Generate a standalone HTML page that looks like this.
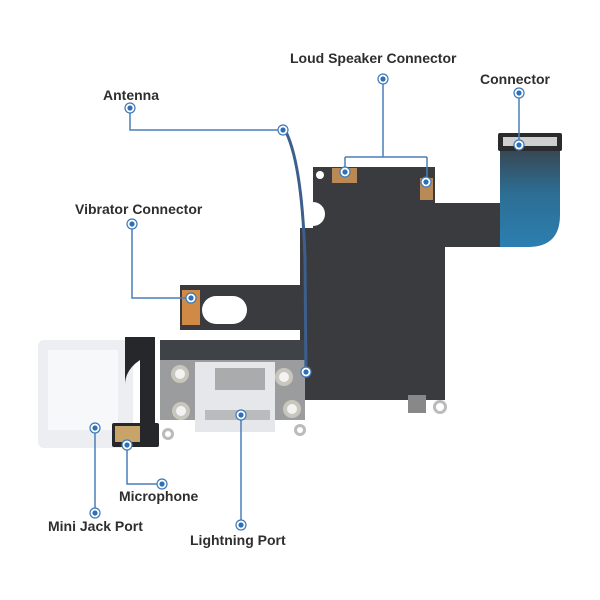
<!DOCTYPE html>
<html><head><meta charset="utf-8"><style>
html,body{margin:0;padding:0;background:#fff;}
svg{display:block;}
text{font-family:"Liberation Sans",sans-serif;font-weight:bold;font-size:14px;fill:#2e2e2e;}
</style></head><body>
<svg width="600" height="600" viewBox="0 0 600 600" xmlns="http://www.w3.org/2000/svg">
<defs>
<linearGradient id="bl" x1="0" y1="0" x2="0" y2="1"><stop offset="0" stop-color="#3a3e44"/><stop offset="0.5" stop-color="#2d6e94"/><stop offset="1" stop-color="#2b7fb0"/></linearGradient>
<g id="dot"><circle r="5" fill="#fff" stroke="#3d78b8" stroke-width="1.2"/><circle r="2.6" fill="#2f6fb5"/></g>
</defs>
<!-- main dark flex board -->
<path d="M313,167 H435 V203 H500 V247 H445 V400 H300 V330 H180 V285 H300 V228 H313 Z" fill="#3a3b3e"/>
<circle cx="313" cy="214" r="12" fill="#fff"/>
<!-- connector end -->
<path d="M500,140 H560 V215 Q560,247 528,247 H500 Z" fill="url(#bl)"/>
<rect x="498" y="133" width="64" height="18" rx="2" fill="#2a2b2d"/>
<rect x="503" y="137" width="54" height="9" fill="#cfcfcf"/>
<circle cx="320" cy="175" r="4" fill="#fff"/>
<!-- speaker pads -->
<rect x="332" y="168" width="25" height="15" fill="#b98a55"/>
<rect x="420" y="178" width="13" height="22" fill="#b98a55"/>
<!-- vibrator pad & hole -->
<rect x="182" y="290" width="18" height="35" fill="#d08a45"/>
<rect x="202" y="296" width="45" height="28" rx="14" fill="#fff"/>
<rect x="290" y="340" width="15" height="25" fill="#fff"/>
<!-- right tab ring -->
<rect x="408" y="395" width="18" height="18" fill="#888"/>
<circle cx="440" cy="407" r="7" fill="#bbb"/><circle cx="440" cy="407" r="4" fill="#fff"/>
<!-- jack white block -->
<rect x="38" y="340" width="95" height="108" rx="6" fill="#eceef2"/>
<rect x="48" y="350" width="70" height="80" fill="#f7f8fa"/>
<!-- jack pcb -->
<path d="M125,337 H155 V440 H150 V425 H140 V360 Q125,370 125,385 Z" fill="#25272b"/>
<rect x="112" y="423" width="47" height="24" rx="2" fill="#25272b"/>
<rect x="115" y="426" width="25" height="16" fill="#c9a46a"/>
<!-- lightning board -->
<rect x="160" y="340" width="145" height="75" fill="#3f4246"/>
<rect x="160" y="360" width="145" height="60" fill="#9a9c9e"/>
<rect x="195" y="362" width="80" height="70" fill="#e6e7ea"/>
<rect x="215" y="368" width="50" height="22" fill="#a9abad"/>
<rect x="205" y="410" width="65" height="10" fill="#b9bbbd"/>
<g fill="#c9c6bd"><circle cx="180" cy="374" r="9"/><circle cx="181" cy="411" r="9"/><circle cx="284" cy="377" r="9"/><circle cx="292" cy="409" r="9"/></g>
<g fill="#f3f3f3"><circle cx="180" cy="374" r="5"/><circle cx="181" cy="411" r="5"/><circle cx="284" cy="377" r="5"/><circle cx="292" cy="409" r="5"/></g>
<circle cx="168" cy="434" r="6" fill="#bbb"/><circle cx="168" cy="434" r="3" fill="#fff"/>
<circle cx="300" cy="430" r="6" fill="#bbb"/><circle cx="300" cy="430" r="3" fill="#fff"/>
<!-- antenna cable -->
<path d="M284,128 Q302,160 305,260 L306,378" fill="none" stroke="#3c5f8e" stroke-width="3"/>
<!-- leader lines -->
<g fill="none" stroke="#4a7fb8" stroke-width="1.5">
<path d="M130,108 V130 H283"/>
<path d="M383,79 V157 M345,157 H427 M345,157 V172 M427,157 V182"/>
<path d="M519,93 V145"/>
<path d="M132,224 V298 H190"/>
<path d="M127,445 V484 H162"/>
<path d="M95,428 V513"/>
<path d="M241,415 V525"/>
</g>
<g>
<use href="#dot" x="130" y="108"/><use href="#dot" x="283" y="130"/>
<use href="#dot" x="383" y="79"/><use href="#dot" x="345" y="172"/><use href="#dot" x="426" y="182"/>
<use href="#dot" x="519" y="93"/><use href="#dot" x="519" y="145"/>
<use href="#dot" x="132" y="224"/><use href="#dot" x="191" y="298"/>
<use href="#dot" x="127" y="445"/><use href="#dot" x="162" y="484"/>
<use href="#dot" x="95" y="428"/><use href="#dot" x="95" y="513"/>
<use href="#dot" x="241" y="415"/><use href="#dot" x="241" y="525"/>
<use href="#dot" x="306" y="372"/>
</g>
<text x="103" y="100">Antenna</text>
<text x="290" y="63">Loud Speaker Connector</text>
<text x="480" y="84">Connector</text>
<text x="75" y="214">Vibrator Connector</text>
<text x="119" y="501">Microphone</text>
<text x="48" y="531">Mini Jack Port</text>
<text x="190" y="545">Lightning Port</text>
</svg>
</body></html>
